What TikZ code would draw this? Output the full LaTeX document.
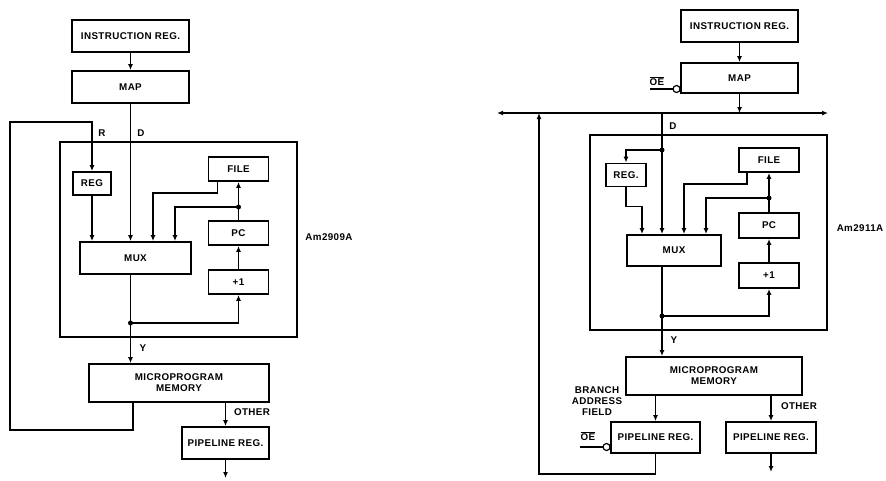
\documentclass[tikz,border=0pt]{standalone}
\usepackage{fontspec}
\newfontfamily\diagfont{Liberation Sans}[LetterSpace=4]
\usetikzlibrary{arrows.meta, positioning, calc}
\tikzset{
  box/.style={rectangle, draw, line width=1.9pt, inner sep=0pt, align=center,
    font=\diagfont\bfseries\fontsize{9.8}{11}\selectfont},
  chip/.style={rectangle, draw, line width=1.4pt, inner sep=0pt},
  arrow/.style={-{Latex[length=6pt,width=5pt]}, line width=1.2pt},
  line/.style={line width=1.2pt},
  dot/.style={circle, fill, inner sep=0pt, minimum size=5pt},
  bubble/.style={circle, draw, line width=1.2pt, fill=white, inner sep=0pt, minimum size=7pt},
  lbl/.style={font=\diagfont\bfseries\fontsize{9.8}{11}\selectfont, inner sep=0pt, align=center}
}

\begin{document}
\begin{tikzpicture}[x=1pt, y=-1pt]
  \useasboundingbox (0,0) rectangle (886,480);

  % ---------------- Am2909A ----------------
  \node[box, minimum width=117pt, minimum height=32pt] (ir1) at (130.5,36) {INSTRUCTION REG.};
  \node[box, minimum width=117pt, minimum height=32pt] (map1) at (130.5,87) {MAP};
  \node[chip, minimum width=237pt, minimum height=195pt] (chip1) at (178.5,239.5) {};
  \node[box, minimum width=38pt, minimum height=23pt] (reg1) at (92,183.5) {REG};
  \node[box, minimum width=60pt, minimum height=24pt] (file1) at (238.5,169) {FILE};
  \node[box, minimum width=60pt, minimum height=24pt] (pc1) at (238.5,233) {PC};
  \node[box, minimum width=60pt, minimum height=24pt] (inc1) at (238.5,282) {+1};
  \node[box, minimum width=111pt, minimum height=32pt] (mux1) at (135.5,258) {MUX};
  \node[box, minimum width=180pt, minimum height=38pt] (mm1) at (179,383) {MICROPROGRAM\\MEMORY};
  \node[box, minimum width=87pt, minimum height=32pt] (pl1) at (225.5,443) {PIPELINE REG.};
  \node[lbl] (chipname1) at (329,237) {Am2909A};

  \coordinate (j1a) at (238.5,207);
  \coordinate (j1b) at (130.5,323);
  \coordinate (fbl1) at (10,430);
  \coordinate (fbt1) at (10,122);
  \coordinate (out1) at (225.5,478);

  \draw[arrow] (ir1) -- (map1);
  \draw[arrow] (map1.south) -- (map1.south |- mux1.north);
  \node[lbl] (dlbl1) at (141,133) {D};
  \draw[arrow] ([xshift=-46pt]mm1.south) |- (fbl1) -- (fbt1) -| (reg1.north);
  \node[lbl] (rlbl1) at (102,133) {R};
  \draw[arrow] (reg1.south) -- (reg1.south |- mux1.north);
  \draw[arrow] ([xshift=-21pt]file1.south) -- ++(0,11) -| ([xshift=17.5pt]mux1.north);
  \draw[arrow] (j1a) -| ([xshift=39.5pt]mux1.north);
  \draw[arrow] (pc1) -- (file1);
  \draw[arrow] (inc1) -- (pc1);
  \draw[line] (mux1.south -| j1b) -- (j1b);
  \draw[arrow] (j1b) -| (inc1.south);
  \draw[arrow] (j1b) -- (j1b |- mm1.north);
  \node[dot] at (j1a) {};
  \node[dot] at (j1b) {};
  \node[lbl] (ylbl1) at (143,348) {Y};
  \draw[arrow] (pl1.north |- mm1.south) -- (pl1.north);
  \node[lbl] (olbl1) at (252,412) {OTHER};
  \draw[arrow] (pl1.south) -- (out1);

  % ---------------- Am2911A ----------------
  \node[box, minimum width=117pt, minimum height=32pt] (ir2) at (739.5,26) {INSTRUCTION REG.};
  \node[box, minimum width=117pt, minimum height=30pt] (map2) at (739.5,78) {MAP};
  \node[chip, minimum width=237pt, minimum height=195pt] (chip2) at (708.5,232.5) {};
  \node[box, minimum width=40pt, minimum height=23pt] (reg2) at (626,175) {REG.};
  \node[box, minimum width=60pt, minimum height=24pt] (file2) at (769,160) {FILE};
  \node[box, minimum width=60pt, minimum height=25pt] (pc2) at (769,225.5) {PC};
  \node[box, minimum width=60pt, minimum height=25pt] (inc2) at (769,275.5) {+1};
  \node[box, minimum width=94pt, minimum height=31pt] (mux2) at (674,250.5) {MUX};
  \node[box, minimum width=176pt, minimum height=38pt] (mm2) at (714,376) {MICROPROGRAM\\MEMORY};
  \node[box, minimum width=89pt, minimum height=31pt] (pl2a) at (655.5,437.5) {PIPELINE REG.};
  \node[box, minimum width=90pt, minimum height=31pt] (pl2b) at (771,437.5) {PIPELINE REG.};
  \node[lbl] (chipname2) at (860,228) {Am2911A};

  \coordinate (busl) at (497,113);
  \coordinate (busr) at (828,113);
  \coordinate (d2) at (662,113);
  \coordinate (fb2) at (539,113);
  \coordinate (j2a) at (662,150);
  \coordinate (j2b) at (769,198);
  \coordinate (j2c) at (662,316);
  \coordinate (oe2a) at (650,89);
  \coordinate (oe2b) at (580,447);
  \coordinate (out2) at (771,472);

  % bus
  \draw[{Latex[length=6pt,width=5pt]}-{Latex[length=6pt,width=5pt]}, line width=1.2pt] (busl) -- (busr);
  \draw[arrow] (ir2) -- (map2);
  \draw[arrow] (map2.south) -- (map2.south |- busl);
  \draw[line] (oe2a) -- ([xshift=-3.5pt]map2.south west |- oe2a);
  \node[bubble] (bub2a) at ([xshift=-3.5pt]map2.south west |- oe2a) {};
  \node[lbl] (oelbl2a) at (657,81) {$\overline{\mbox{OE}}$};

  \draw[line] (d2) -- (j2a);
  \node[lbl] (dlbl2) at (673,126) {D};
  \draw[arrow] (j2a) -- (j2a |- mux2.north);
  \draw[arrow] (j2a) -| (reg2.north);
  \draw[arrow] (reg2.south) -- ++(0,19) -| ([xshift=-32pt]mux2.north);
  \draw[arrow] ([xshift=-22pt]file2.south) -- ++(0,11) -| ([xshift=10pt]mux2.north);
  \draw[arrow] (j2b) -| ([xshift=32pt]mux2.north);
  \draw[arrow] (pc2) -- (file2);
  \draw[arrow] (inc2) -- (pc2);
  \draw[line] (mux2.south -| j2c) -- (j2c);
  \draw[arrow] (j2c) -| (inc2.south);
  \draw[arrow] (j2c) -- (j2c |- mm2.north);
  \node[dot] at (j2a) {};
  \node[dot] at (j2b) {};
  \node[dot] at (j2c) {};
  \node[lbl] (ylbl2) at (674,340) {Y};

  \draw[arrow] (pl2a.north |- mm2.south) -- (pl2a.north);
  \node[lbl] (balbl2) at (597,401) {BRANCH\\ADDRESS\\FIELD};
  \draw[arrow] (pl2b.north |- mm2.south) -- (pl2b.north);
  \node[lbl] (olbl2) at (799,406) {OTHER};
  \draw[arrow] (pl2b.south) -- (out2);
  \draw[line] (oe2b) -- ([xshift=-3.5pt]pl2a.west |- oe2b);
  \node[bubble] (bub2b) at ([xshift=-3.5pt]pl2a.west |- oe2b) {};
  \node[lbl] (oelbl2b) at (588,436) {$\overline{\mbox{OE}}$};
  \draw[arrow] (pl2a.south) -- ++(0,20) -| (fb2);
\end{tikzpicture}
\end{document}
